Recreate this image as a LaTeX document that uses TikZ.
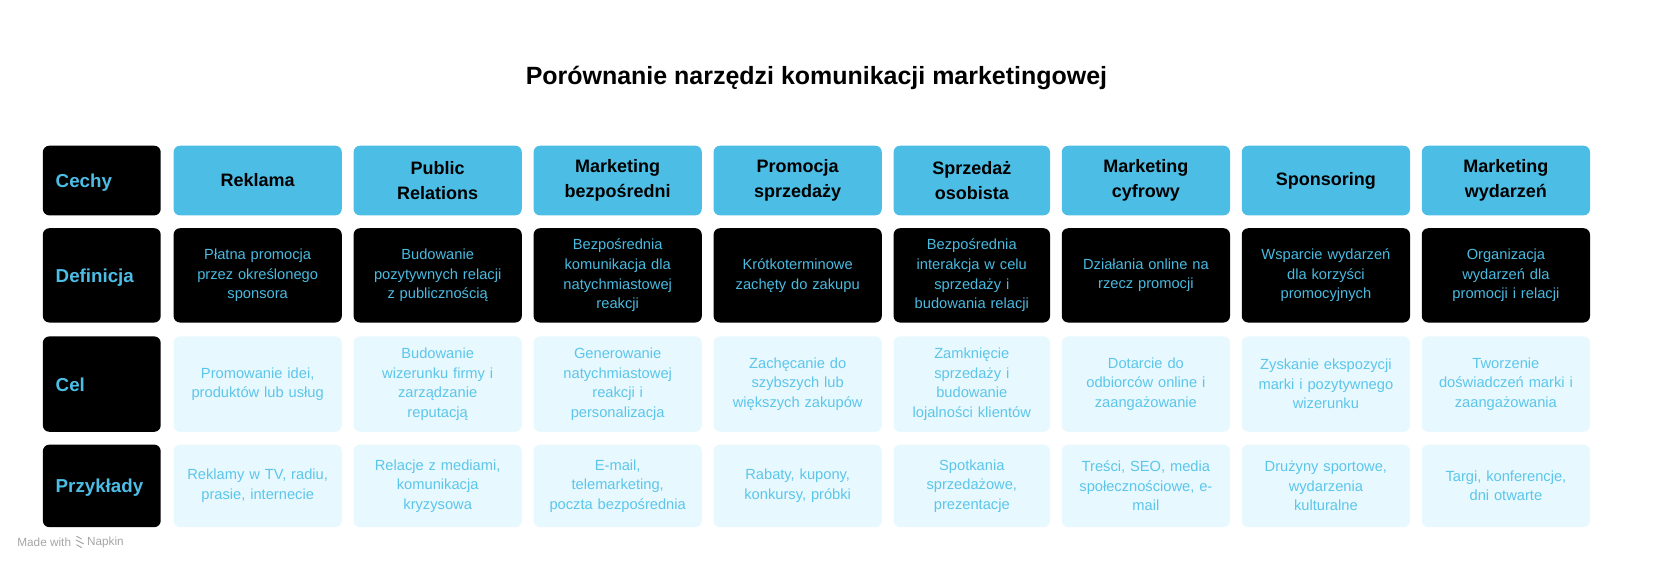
\documentclass[tikz,border=0pt]{standalone}
\usepackage{fontspec}
\setmainfont{Liberation Sans}
\definecolor{hblue}{RGB}{76,190,230}
\definecolor{dtext}{RGB}{74,186,224}
\definecolor{ltext}{RGB}{92,198,234}
\definecolor{lfill}{RGB}{231,248,254}
\definecolor{napgray}{RGB}{165,165,165}
\begin{document}
\begin{tikzpicture}[x=1pt,y=-1pt,
  cellbase/.style={rounded corners=6pt, inner sep=0pt, align=center, anchor=center, text width=150pt},
  headcell/.style={cellbase, fill=hblue, text=black, minimum height=65pt, font=\fontsize{16.8}{23}\selectfont\bfseries},
  defcell/.style={cellbase, fill=black, text=dtext, minimum height=88pt, font=\fontsize{13.7}{18.3}\selectfont},
  celcell/.style={cellbase, fill=lfill, text=ltext, minimum height=89pt, font=\fontsize{13.7}{18.3}\selectfont},
  excell/.style={cellbase, fill=lfill, text=ltext, minimum height=77pt, font=\fontsize{13.7}{18.3}\selectfont},
  labcell/.style={rounded corners=6pt, inner sep=0pt, fill=black, text=hblue, minimum width=110pt, text width=86pt, align=left, anchor=center, text height=13pt, text depth=0pt, font=\fontsize{17.5}{21}\selectfont\bfseries},
  wide/.style={minimum width=157pt},
  narrow/.style={minimum width=146pt, text width=140pt}
]
\useasboundingbox (0,0) rectangle (1568,525);

% title
\node[font=\fontsize{23.3}{28}\selectfont\bfseries, anchor=center] (title) at (762,73) {Porównanie narzędzi komunikacji marketingowej};

% label column
\node[labcell, minimum height=65pt] (lab1) at (95,168.5) {Cechy};
\node[labcell, minimum height=88pt] (lab2) at (95,257) {Definicja};
\node[labcell, minimum height=89pt] (lab3) at (95,358.5) {Cel};
\node[labcell, minimum height=77pt] (lab4) at (95,453.5) {Przykłady};

% header row
\node[headcell, wide] (h1) at (240.5,168.5) {Reklama};
\node[headcell, wide] (h2) at (408.5,168.5) {Public\\Relations};
\node[headcell, wide] (h3) at (576.5,168.5) {Marketing\\bezpośredni};
\node[headcell, wide] (h4) at (744.5,168.5) {Promocja\\sprzedaży};
\node[headcell, narrow] (h5) at (907,168.5) {Sprzedaż\\osobista};
\node[headcell, wide] (h6) at (1069.5,168.5) {Marketing\\cyfrowy};
\node[headcell, wide] (h7) at (1237.5,168.5) {Sponsoring};
\node[headcell, wide] (h8) at (1405.5,168.5) {Marketing\\wydarzeń};

% definition row
\node[defcell, wide] (d1) at (240.5,257) {Płatna promocja\\przez określonego\\sponsora};
\node[defcell, wide] (d2) at (408.5,257) {Budowanie\\pozytywnych relacji\\z publicznością};
\node[defcell, wide] (d3) at (576.5,257) {Bezpośrednia\\komunikacja dla\\natychmiastowej\\reakcji};
\node[defcell, wide] (d4) at (744.5,257) {Krótkoterminowe\\zachęty do zakupu};
\node[defcell, narrow] (d5) at (907,257) {Bezpośrednia\\interakcja w celu\\sprzedaży i\\budowania relacji};
\node[defcell, wide] (d6) at (1069.5,257) {Działania online na\\rzecz promocji};
\node[defcell, wide] (d7) at (1237.5,257) {Wsparcie wydarzeń\\dla korzyści\\promocyjnych};
\node[defcell, wide] (d8) at (1405.5,257) {Organizacja\\wydarzeń dla\\promocji i relacji};

% goal row
\node[celcell, wide] (g1) at (240.5,358.5) {Promowanie idei,\\produktów lub usług};
\node[celcell, wide] (g2) at (408.5,358.5) {Budowanie\\wizerunku firmy i\\zarządzanie\\reputacją};
\node[celcell, wide] (g3) at (576.5,358.5) {Generowanie\\natychmiastowej\\reakcji i\\personalizacja};
\node[celcell, wide] (g4) at (744.5,358.5) {Zachęcanie do\\szybszych lub\\większych zakupów};
\node[celcell, narrow] (g5) at (907,358.5) {Zamknięcie\\sprzedaży i\\budowanie\\lojalności klientów};
\node[celcell, wide] (g6) at (1069.5,358.5) {Dotarcie do\\odbiorców online i\\zaangażowanie};
\node[celcell, wide] (g7) at (1237.5,358.5) {Zyskanie ekspozycji\\marki i pozytywnego\\wizerunku};
\node[celcell, wide] (g8) at (1405.5,358.5) {Tworzenie\\doświadczeń marki i\\zaangażowania};

% examples row
\node[excell, wide] (e1) at (240.5,453.5) {Reklamy w TV, radiu,\\prasie, internecie};
\node[excell, wide] (e2) at (408.5,453.5) {Relacje z mediami,\\komunikacja\\kryzysowa};
\node[excell, wide] (e3) at (576.5,453.5) {E-mail,\\telemarketing,\\poczta bezpośrednia};
\node[excell, wide] (e4) at (744.5,453.5) {Rabaty, kupony,\\konkursy, próbki};
\node[excell, narrow] (e5) at (907,453.5) {Spotkania\\sprzedażowe,\\prezentacje};
\node[excell, wide] (e6) at (1069.5,453.5) {Treści, SEO, media\\społecznościowe, e-\\mail};
\node[excell, wide] (e7) at (1237.5,453.5) {Drużyny sportowe,\\wydarzenia\\kulturalne};
\node[excell, wide] (e8) at (1405.5,453.5) {Targi, konferencje,\\dni otwarte};

% watermark
\node[font=\fontsize{11}{13}\selectfont, text=napgray, anchor=west, inner sep=0pt] (made) at (16,506) {Made with};
\node[font=\fontsize{11}{13}\selectfont, text=napgray, anchor=west, inner sep=0pt] (napkin) at (81,506) {Napkin};
\draw[napgray, line width=0.9pt, line cap=round] (71.5,500.5) -- (76,503) (71,504) -- (78,507.5) (71.5,508.5) -- (76,511);
\end{tikzpicture}
\end{document}
